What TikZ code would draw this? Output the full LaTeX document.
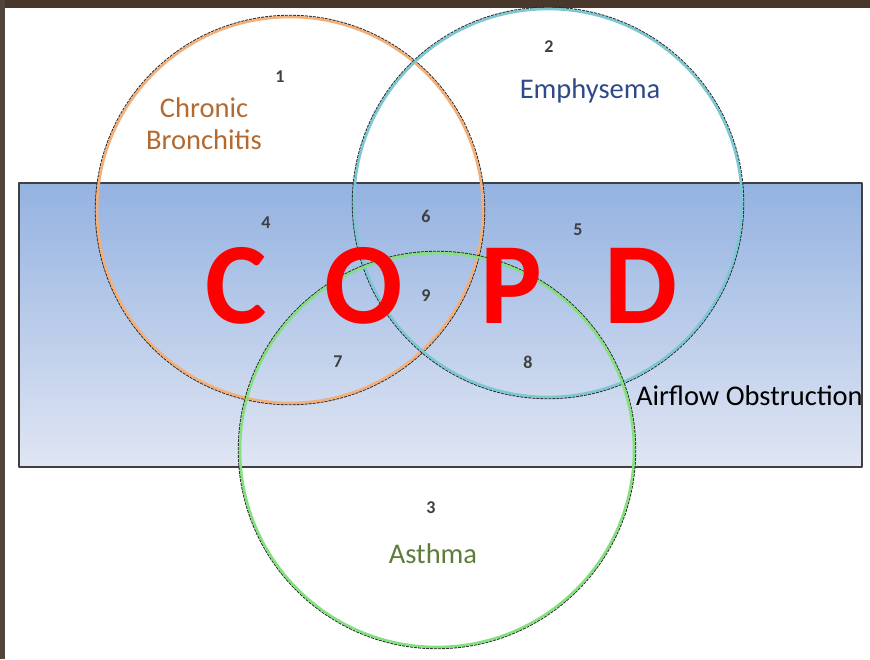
\documentclass[tikz,border=0pt]{standalone}
\usepackage{fontspec}
\setmainfont{Carlito}
\definecolor{cbline}{HTML}{F4AE78}
\definecolor{emline}{HTML}{7CC7D2}
\definecolor{asline}{HTML}{84E07E}
\definecolor{cbtext}{HTML}{B4692E}
\definecolor{emtext}{HTML}{2E4A8A}
\definecolor{astext}{HTML}{5F7C3C}
\definecolor{boxtop}{HTML}{94B2E1}
\definecolor{boxbot}{HTML}{E0E6F3}
\definecolor{frame}{HTML}{47382B}
\definecolor{numgray}{HTML}{3F3F3F}
\newcommand{\numlab}[1]{{\fontsize{18pt}{18pt}\selectfont\bfseries #1}}

\begin{document}
\begin{tikzpicture}[x=1pt,y=-1pt,line width=1pt,line join=bevel,
  every node/.style={inner sep=0pt,outer sep=0pt},
  ring/.style={line width=2.6pt},
  ringedge/.style={line width=1.2pt,black!85,dash pattern=on 3pt off 1pt},
  regnum/.style={text=numgray},
  setname/.style={font=\fontsize{28.5pt}{32pt}\selectfont},
  copdletter/.style={font=\fontsize{116pt}{116pt}\selectfont\bfseries,text=red,
    text height=75pt,text depth=0pt}]
  % 画布 870×659px，1px＝1pt，y 轴向下
  \path[use as bounding box] (0,0) rectangle (870,659);
  % ---- 外框：上沿、左沿深色边 ----
  \fill[frame] (0,0) rectangle (870,8);
  \fill[frame!80!gray] (0,0) rectangle (5,659);
  % ---- 圆心、半径（源图像素）----
  \coordinate (cbc) at (290,210);  % Chronic Bronchitis
  \coordinate (emc) at (548,203);  % Emphysema
  \coordinate (asc) at (437,450);  % Asthma
  % ---- 气流阻塞带：渐变矩形 ----
  \shade[top color=boxtop,bottom color=boxbot] (19,183) rectangle (862,467);
  \draw[line width=1.6pt,black!75] (19,183) rectangle (862,467);
  % ---- 三圆：黑色细边 + 彩色粗线 ----
  \draw[ringedge] (cbc) circle[radius=194.6];
  \draw[ring,cbline] (cbc) circle[radius=193];
  \draw[ringedge] (emc) circle[radius=195.6];
  \draw[ring,emline] (emc) circle[radius=194];
  \draw[ringedge] (asc) circle[radius=198.6];
  \draw[ring,asline] (asc) circle[radius=197];
  % ---- 区域编号 ----
  \node[regnum] (n1) at (280, 77) {\numlab{1}};
  \node[regnum] (n2) at (549, 47) {\numlab{2}};
  \node[regnum] (n3) at (431,508) {\numlab{3}};
  \node[regnum] (n4) at (266,223) {\numlab{4}};
  \node[regnum] (n5) at (578,230) {\numlab{5}};
  \node[regnum] (n6) at (426,216) {\numlab{6}};
  \node[regnum] (n7) at (338,362) {\numlab{7}};
  \node[regnum] (n8) at (528,362) {\numlab{8}};
  \node[regnum] (n9) at (426,296) {\numlab{9}};
  % ---- 集合名称 ----
  \node[setname,align=center,text=cbtext] (cbname) at (204,124) {Chronic\\Bronchitis};
  \node[setname,text=emtext] (emname) at (590,91) {Emphysema};
  \node[setname,text=astext] (asname) at (433,554) {Asthma};
  \node[setname,anchor=west] (afname) at (636,396) {Airflow Obstruction};
  % ---- COPD 大字（字盒只取大写高度）----
  \node[copdletter] (lc) at (236,286) {C};
  \node[copdletter] (lo) at (364,286) {O};
  \node[copdletter] (lp) at (511,286) {P};
  \node[copdletter] (ld) at (641,286) {D};
\end{tikzpicture}
\end{document}
